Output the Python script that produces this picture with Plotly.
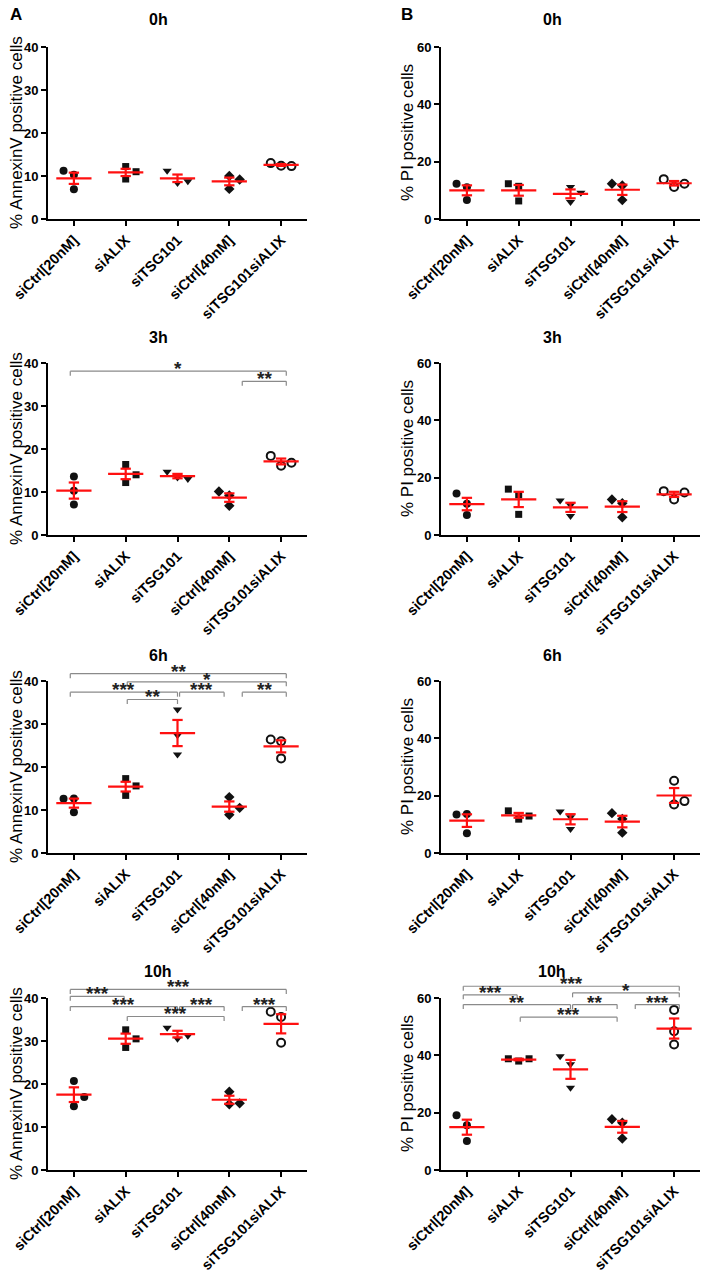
import numpy as np
import plotly.graph_objects as go

GROUPS = ["siCtrl[20nM]", "siALIX", "siTSG101", "siCtrl[40nM]", "siTSG101siALIX"]
TIMES = ["0h", "3h", "6h", "10h"]

# Panel A: % AnnexinV positive cells (3 replicates per group)
ANNEXIN_0H = [[11.2, 6.9, 10.3], [12.2, 9.3, 11.0], [11.2, 8.8, 8.4], [10.0, 7.0, 9.2], [13.0, 12.4, 12.3]]
ANNEXIN_3H = [[13.6, 7.1, 10.3], [16.4, 12.2, 14.0], [14.7, 13.0, 13.4], [10.1, 6.8, 9.2], [18.4, 16.1, 16.8]]
ANNEXIN_6H = [[12.6, 9.5, 12.7], [17.3, 13.4, 15.6], [33.4, 22.9, 27.4], [13.0, 8.9, 10.5], [26.4, 26.0, 22.0]]
ANNEXIN_10H = [[20.7, 14.85, 17.0], [32.6, 28.5, 30.5], [33.1, 31.2, 30.5], [18.2, 15.3, 15.5], [36.8, 35.6, 29.6]]

# Panel B: % PI positive cells
PI_0H = [[12.3, 6.6, 11.1], [12.3, 6.3, 11.4], [11.2, 9.2, 5.9], [12.3, 6.6, 11.7], [13.9, 11.2, 12.3]]
PI_3H = [[14.5, 7.0, 10.9], [16.0, 7.2, 14.0], [12.0, 6.6, 10.35], [12.4, 6.2, 11.1], [15.3, 12.4, 14.8]]
PI_6H = [[13.4, 6.9, 13.6], [14.7, 11.8, 12.9], [14.45, 8.4, 12.45], [13.9, 7.1, 11.9], [25.2, 16.9, 18.1]]
PI_10H = [[19.1, 10.1, 15.6], [38.8, 38.0, 38.8], [39.7, 28.7, 36.9], [17.7, 11.0, 16.5], [55.85, 48.4, 43.8]]

# Significance comparisons: (group_from, group_to, bracket level, label)
SIG_ANNEXIN_3H = [(0, 4, 38.1, "*"), (3, 4, 35.75, "**")]
SIG_ANNEXIN_6H = [(0, 4, 41.7, "**"), (1, 4, 39.8, "*"), (0, 2, 37.4, "***"),
                  (2, 3, 37.4, "***"), (3, 4, 37.4, "**"), (1, 2, 35.7, "**")]
SIG_ANNEXIN_10H = [(0, 4, 42.0, "***"), (0, 1, 40.4, "***"), (0, 2, 38.0, "***"),
                   (2, 3, 38.0, "***"), (3, 4, 38.0, "***"), (1, 3, 35.7, "***")]
SIG_PI_10H = [(0, 4, 64.1, "***"), (0, 1, 61.1, "***"), (2, 4, 61.8, "*"), (0, 2, 57.7, "**"),
              (2, 3, 57.7, "**"), (3, 4, 57.7, "***"), (1, 3, 53.3, "***")]

# column-scatter slot of each replicate (-1 left, 0 centre, +1 right)
SLOTS_A = [
    [[-1, 0, 0], [0, 0, 1], [-1, 1, 0], [0, 0, 1], [-1, 0, 1]],
    [[0, 0, 0], [0, 0, 1], [-1, 1, 0], [-1, 0, 0], [-1, 0, 1]],
    [[-1, 0, 0], [0, 0, 1], [0, 0, 0], [0, 0, 1], [-1, 0, 0]],
    [[0, 0, 1], [0, 0, 1], [-1, 1, 0], [0, 0, 1], [-1, 0, 0]],
]
SLOTS_B = [
    [[-1, 0, 0], [-1, 0, 0], [0, 1, 0], [-1, 0, 0], [-1, 0, 1]],
    [[-1, 0, 0], [-1, 0, 0], [-1, 0, 0], [-1, 0, 0], [-1, 0, 1]],
    [[-1, 0, 0], [-1, 0, 1], [-1, 0, 0], [-1, 0, 0], [0, 0, 1]],
    [[-1, 0, 0], [-1, 0, 1], [-1, 0, 0], [-1, 0, 0], [0, 0, 0]],
]

# ---------------- styling ----------------
W, H = 709, 1272
FONT = "Arial, Liberation Sans, sans-serif"
COL_X = [(48, 307), (441, 700)]
ROW_Y = [(47, 219), (363, 535), (681, 853), (998, 1170)]
TITLE_Y = [20, 337, 655, 971]
TITLE_X = [158, 552]
YTITLE_X = [16, 407]
SLOT_STEP = 0.2
MEAN_HALF = 0.34
CAP_HALF = 0.1
DROP_PX = 4.5
LEFT_INSET = {0: -0.07, 1: 0.03, 2: 0.04, 3: 0.25}
RIGHT_INSET = {1: -0.03, 2: 0.0, 3: -0.1, 4: 0.1}
SYMBOLS = ["circle", "square", "triangle-down", "diamond", "circle-open"]
SIZES = [8, 7, 8, 8, 8]
INK = "#111111"

fig = go.Figure()
layout = dict(width=W, height=H, margin=dict(l=0, r=0, t=0, b=0, autoexpand=False),
              paper_bgcolor="white", plot_bgcolor="white", showlegend=False)
annotations = []
shapes = []

panels = []
for r, t in enumerate(TIMES):
    panels.append((r, 0, [ANNEXIN_0H, ANNEXIN_3H, ANNEXIN_6H, ANNEXIN_10H][r], SLOTS_A[r], 40,
                   [0, 10, 20, 30, 40], "% AnnexinV positive cells",
                   {1: SIG_ANNEXIN_3H, 2: SIG_ANNEXIN_6H, 3: SIG_ANNEXIN_10H}.get(r, [])))
    panels.append((r, 1, [PI_0H, PI_3H, PI_6H, PI_10H][r], SLOTS_B[r], 60,
                   [0, 20, 40, 60], "% PI positive cells",
                   {3: SIG_PI_10H}.get(r, [])))

for r, c, data, slots, ymax, yticks, ytitle, sigs in panels:
    k = r * 2 + c + 1
    sfx = "" if k == 1 else str(k)
    xa, ya = "x" + sfx, "y" + sfx
    x0, x1 = COL_X[c]
    yt, yb = ROW_Y[r]
    plot_h = yb - yt

    # replicate points
    for g, vals in enumerate(data):
        xs = [g + SLOT_STEP * s for s in slots[g]]
        fig.add_trace(go.Scatter(
            x=xs, y=vals, mode="markers", xaxis=xa, yaxis=ya, cliponaxis=False,
            marker=dict(symbol=SYMBOLS[g], size=SIZES[g], color=INK,
                        line=dict(width=2 if g == 4 else 0, color=INK)),
            hoverinfo="skip"))

    # mean +/- SEM
    lx, ly = [], []
    for g, vals in enumerate(data):
        m = float(np.mean(vals))
        s = float(np.std(vals, ddof=1) / np.sqrt(len(vals)))
        lx += [g - MEAN_HALF, g + MEAN_HALF, None, g, g, None,
               g - CAP_HALF, g + CAP_HALF, None, g - CAP_HALF, g + CAP_HALF, None]
        ly += [m, m, None, m - s, m + s, None, m + s, m + s, None, m - s, m - s, None]
    fig.add_trace(go.Scatter(x=lx, y=ly, mode="lines", xaxis=xa, yaxis=ya, cliponaxis=False,
                             line=dict(color="#ff1010", width=2.2), hoverinfo="skip"))

    layout["xaxis" + sfx] = dict(
        domain=[x0 / W, x1 / W], anchor=ya, range=[-0.5, 4.5], automargin=False,
        tickmode="array", tickvals=list(range(len(GROUPS))), ticktext=GROUPS, tickangle=-45,
        ticks="outside", ticklen=5, tickwidth=2, tickcolor="black",
        showline=True, linewidth=2, linecolor="black", showgrid=False, zeroline=False,
        tickfont=dict(family=FONT, size=14.5, color="black", weight="bold"), fixedrange=True)
    layout["yaxis" + sfx] = dict(
        domain=[1 - yb / H, 1 - yt / H], anchor=xa, range=[0, ymax], automargin=False,
        tickmode="array", tickvals=yticks, ticks="outside", ticklen=5, tickwidth=2,
        tickcolor="black", showline=True, linewidth=2, linecolor="black",
        showgrid=False, zeroline=False,
        tickfont=dict(family=FONT, size=13, color="black", weight="bold"), fixedrange=True)

    # significance brackets
    drop = DROP_PX / plot_h
    for gi, gj, lvl, lab in sigs:
        xl = gi + LEFT_INSET[gi]
        xr = gj + RIGHT_INSET[gj]
        yl = lvl / ymax
        for (ax0, ay0, ax1, ay1) in [(xl, yl - drop, xl, yl), (xl, yl, xr, yl), (xr, yl, xr, yl - drop)]:
            shapes.append(dict(type="line", xref=xa, yref=ya + " domain",
                               x0=ax0, y0=ay0, x1=ax1, y1=ay1,
                               line=dict(color="#8a8a8a", width=1.2)))
        annotations.append(dict(x=(xl + xr) / 2, y=yl, xref=xa, yref=ya + " domain",
                                text=lab, showarrow=False, yanchor="bottom", yshift=-10,
                                font=dict(family=FONT, size=19, color="#222222", weight="bold")))

    # panel title
    annotations.append(dict(x=TITLE_X[c] / W, y=1 - TITLE_Y[r] / H, xref="paper", yref="paper",
                            text=TIMES[r], showarrow=False, xanchor="center", yanchor="middle",
                            font=dict(family=FONT, size=16, color="black", weight="bold")))
    # y-axis title
    annotations.append(dict(x=YTITLE_X[c] / W, y=1 - (yt + yb) / 2 / H, xref="paper", yref="paper",
                            text=ytitle, textangle=-90, showarrow=False,
                            xanchor="center", yanchor="middle",
                            font=dict(family=FONT, size=17, color="black")))

annotations.append(dict(x=16 / W, y=1 - 14 / H, xref="paper", yref="paper", text="A",
                        xanchor="center", yanchor="middle", showarrow=False,
                        font=dict(family=FONT, size=17, color="black", weight="bold")))
annotations.append(dict(x=407 / W, y=1 - 14 / H, xref="paper", yref="paper", text="B",
                        xanchor="center", yanchor="middle", showarrow=False,
                        font=dict(family=FONT, size=17, color="black", weight="bold")))

layout["annotations"] = annotations
layout["shapes"] = shapes
fig.update_layout(**layout)
fig.write_html("out.html", config={"displayModeBar": False},
               post_script="document.body.style.margin='0';")
